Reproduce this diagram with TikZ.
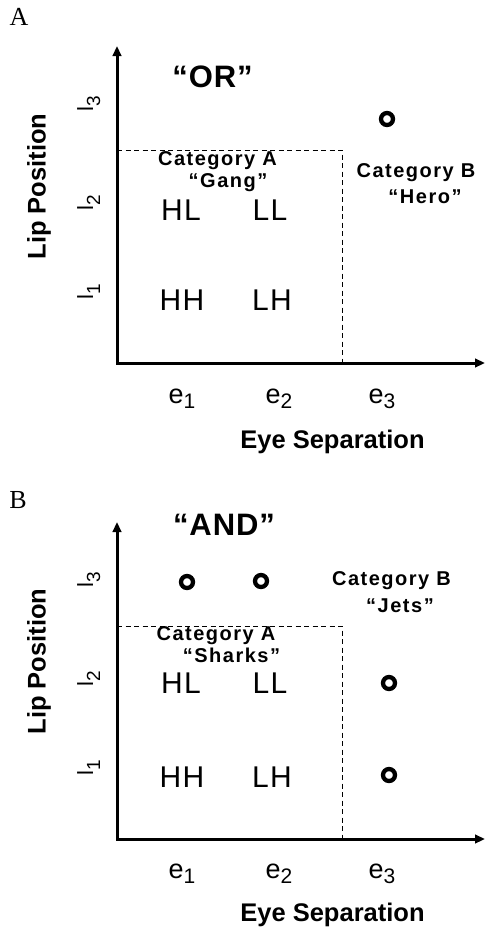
\documentclass[tikz,border=0pt]{standalone}
\usepackage{fontspec}
\setmainfont{Liberation Sans}
\newfontfamily\panelfont{Liberation Serif}
\usetikzlibrary{arrows.meta}

% symbol with a lowered index of nearly the same size
\newcommand\ticklab[4]{#1\raisebox{-#3}{\fontsize{#4}{#4}\selectfont #2}}

\tikzset{
  axis/.style={line width=3pt, line join=miter,
    {Triangle[width=8.5pt,length=10pt]}-{Triangle[width=8.5pt,length=10pt]}},
  region/.style={line width=1pt, dash pattern=on 5pt off 3.5pt},
  panellabel/.style={font=\panelfont\fontsize{26}{26}\selectfont, anchor=base, inner sep=0pt},
  logic/.style={font=\bfseries\fontsize{31}{31}\selectfont\addfontfeatures{LetterSpace=3}, anchor=base, inner sep=0pt},
  axtitle/.style={font=\bfseries\fontsize{25.5}{25.5}\selectfont, anchor=base, inner sep=0pt},
  etick/.style={font=\fontsize{27}{27}\selectfont, anchor=base, inner sep=0pt},
  ltick/.style={font=\fontsize{22}{22}\selectfont, anchor=base, rotate=90, inner sep=0pt},
  cell/.style={font=\fontsize{30}{30}\selectfont\addfontfeatures{LetterSpace=4}, anchor=base, inner sep=0pt},
  cat/.style={font=\bfseries\fontsize{20}{20}\selectfont\addfontfeatures{LetterSpace=7.5}, anchor=base, inner sep=0pt},
  item/.style={circle, draw, line width=4.3pt, minimum size=12pt, inner sep=0pt}
}

\begin{document}
\begin{tikzpicture}[x=1pt, y=-1pt]
\useasboundingbox (0,0) rectangle (486,930);

% ---------------- panel A: OR ----------------
\node[panellabel] (a-label) at (19,25) {A};
\coordinate (a-o) at (117,363);
\coordinate (a-ytip) at (117,46);
\coordinate (a-xtip) at (485,363);
\coordinate (a-top) at (117,150);
\coordinate (a-corner) at (342,363);
\draw[axis] (a-ytip) -- (a-o) -- (a-xtip);
\draw[region] (a-top) -| (a-corner);

\node[logic] (a-logic) at (212.5,87) {“OR”};
\node[axtitle, rotate=90] (a-ytitle) at (45.5,186.5) {Lip Position};
\node[axtitle] (a-xtitle) at (332.5,448) {Eye Separation};

\node[ltick] (a-l3) at (93,104) {\ticklab{l}{3}{7pt}{19}};
\node[ltick] (a-l2) at (93,203) {\ticklab{l}{2}{7pt}{19}};
\node[ltick] (a-l1) at (93,292) {\ticklab{l}{1}{7pt}{19}};
\node[etick] (a-e1) at (182,403) {\ticklab{e}{1}{5pt}{21}};
\node[etick] (a-e2) at (279,403) {\ticklab{e}{2}{5pt}{21}};
\node[etick] (a-e3) at (382,403) {\ticklab{e}{3}{5pt}{21}};

\node[cell] (a-hl) at (181,220) {HL};
\node[cell] (a-ll) at (270,220) {LL};
\node[cell] (a-hh) at (182,310) {HH};
\node[cell] (a-lh) at (272,310) {LH};

\node[cat] (a-cata) at (217.5,165) {Category A};
\node[cat] (a-gang) at (228,187) {“Gang”};
\node[cat] (a-catb) at (416,177) {Category B};
\node[cat] (a-hero) at (425,203) {“Hero”};

\node[item] (a-dot) at (387,119) {};

% ---------------- panel B: AND ----------------
\node[panellabel] (b-label) at (18,508) {B};
\coordinate (b-o) at (117,839);
\coordinate (b-ytip) at (117,522);
\coordinate (b-xtip) at (485,839);
\coordinate (b-top) at (117,626);
\coordinate (b-corner) at (342,839);
\draw[axis] (b-ytip) -- (b-o) -- (b-xtip);
\draw[region] (b-top) -| (b-corner);

\node[logic] (b-logic) at (224,535) {“AND”};
\node[axtitle, rotate=90] (b-ytitle) at (45.5,661.5) {Lip Position};
\node[axtitle] (b-xtitle) at (332.5,921) {Eye Separation};

\node[ltick] (b-l3) at (93,580) {\ticklab{l}{3}{7pt}{19}};
\node[ltick] (b-l2) at (93,679) {\ticklab{l}{2}{7pt}{19}};
\node[ltick] (b-l1) at (93,768) {\ticklab{l}{1}{7pt}{19}};
\node[etick] (b-e1) at (182,878) {\ticklab{e}{1}{5pt}{21}};
\node[etick] (b-e2) at (279,878) {\ticklab{e}{2}{5pt}{21}};
\node[etick] (b-e3) at (382,878) {\ticklab{e}{3}{5pt}{21}};

\node[cell] (b-hl) at (181,693) {HL};
\node[cell] (b-ll) at (270,693) {LL};
\node[cell] (b-hh) at (182,787) {HH};
\node[cell] (b-lh) at (272,787) {LH};

\node[cat] (b-cata) at (216,640) {Category A};
\node[cat] (b-sharks) at (231.5,662) {“Sharks”};
\node[cat] (b-catb) at (391.5,585) {Category B};
\node[cat] (b-jets) at (400,612) {“Jets”};

\node[item] (b-dot1) at (187,582) {};
\node[item] (b-dot2) at (261,581) {};
\node[item] (b-dot3) at (389,683) {};
\node[item] (b-dot4) at (389,775) {};
\end{tikzpicture}
\end{document}
